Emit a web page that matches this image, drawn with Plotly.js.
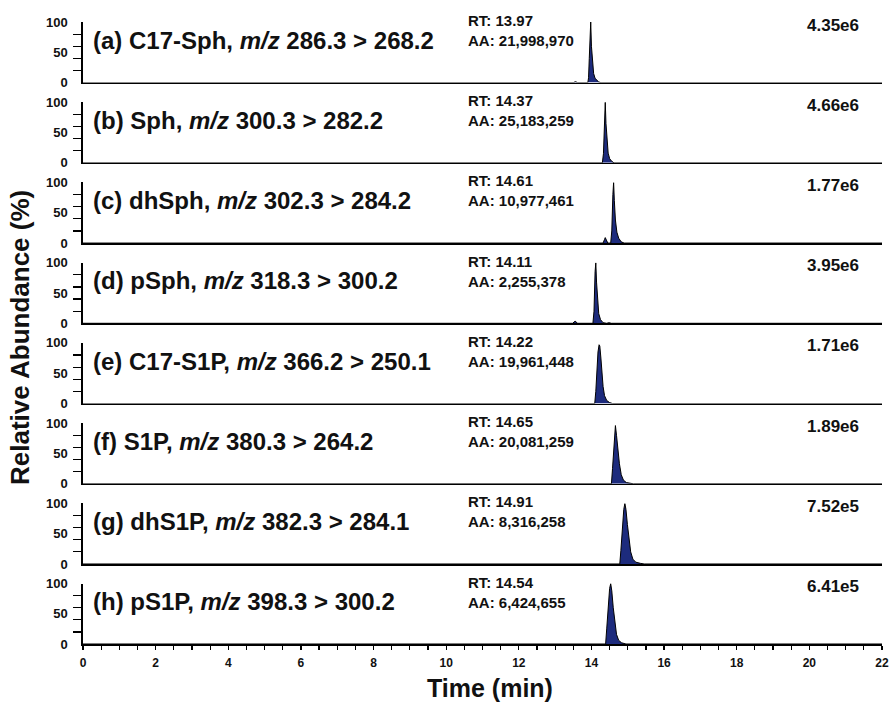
<!DOCTYPE html>
<html>
<head>
<meta charset="utf-8">
<script src="https://cdn.plot.ly/plotly-3.0.1.min.js"></script>
<style>html,body{margin:0;padding:0;background:#fff;}#chart{width:890px;height:705px;}</style>
</head>
<body>
<div id="chart"></div>
<script>
// ---- data ----
var panelLabels = [
  "(a) C17-Sph, <i>m/z</i> 286.3 > 268.2",
  "(b) Sph, <i>m/z</i> 300.3 > 282.2",
  "(c) dhSph, <i>m/z</i> 302.3 > 284.2",
  "(d) pSph, <i>m/z</i> 318.3 > 300.2",
  "(e) C17-S1P, <i>m/z</i> 366.2 > 250.1",
  "(f) S1P, <i>m/z</i> 380.3 > 264.2",
  "(g) dhS1P, <i>m/z</i> 382.3 > 284.1",
  "(h) pS1P, <i>m/z</i> 398.3 > 300.2"
];
var rtValues = ["13.97", "14.37", "14.61", "14.11", "14.22", "14.65", "14.91", "14.54"];
var aaValues = ["21,998,970", "25,183,259", "10,977,461", "2,255,378", "19,961,448", "20,081,259", "8,316,258", "6,424,655"];
var maxIntensity = ["4.35e6", "4.66e6", "1.77e6", "3.95e6", "1.71e6", "1.89e6", "7.52e5", "6.41e5"];

var timeA = [0, 13.50, 13.56, 13.62, 13.90, 13.92, 13.94, 13.96, 13.98, 14.00, 14.03, 14.06, 14.10, 14.15, 14.20, 14.26, 22];
var intA  = [0, 0, 1.5, 0, 0, 8, 40, 85, 100, 60, 30, 15, 7, 3, 1, 0, 0];
var timeB = [0, 13.52, 13.58, 13.64, 14.30, 14.33, 14.36, 14.38, 14.40, 14.43, 14.46, 14.50, 14.55, 14.62, 22];
var intB  = [0, 0, 1.2, 0, 0, 15, 70, 100, 65, 32, 16, 7, 3, 0, 0];
var timeC = [0, 13.50, 13.55, 13.60, 14.32, 14.36, 14.38, 14.41, 14.45, 14.53, 14.56, 14.59, 14.61, 14.63, 14.66, 14.70, 14.75, 14.82, 14.90, 22];
var intC  = [0, 0, 1, 0, 0, 6, 9, 5, 0, 0, 20, 80, 100, 70, 38, 18, 8, 2, 0, 0];
var timeD = [0, 13.48, 13.55, 13.62, 14.04, 14.07, 14.10, 14.12, 14.14, 14.17, 14.20, 14.25, 14.32, 14.42, 14.48, 14.55, 22];
var intD  = [0, 0, 3.5, 0, 0, 20, 85, 100, 68, 35, 16, 6, 1, 0, 1, 0, 0];
var timeE = [0, 13.82, 13.87, 13.92, 14.09, 14.12, 14.15, 14.18, 14.21, 14.23, 14.26, 14.29, 14.32, 14.36, 14.42, 14.50, 14.58, 22];
var intE  = [0, 0, 1, 0, 0, 20, 55, 85, 97, 95, 75, 50, 28, 13, 5, 1.5, 0, 0];
var timeF = [0, 14.55, 14.58, 14.61, 14.64, 14.66, 14.69, 14.73, 14.77, 14.82, 14.88, 14.96, 15.10, 15.15, 22];
var intF  = [0, 0, 25, 60, 92, 96, 80, 55, 33, 15, 6, 2, 0.5, 0, 0];
var timeG = [0, 14.78, 14.81, 14.85, 14.89, 14.92, 14.95, 14.99, 15.03, 15.08, 15.14, 15.22, 15.35, 15.45, 22];
var intG  = [0, 0, 22, 60, 90, 100, 90, 65, 40, 20, 8, 3, 1, 0, 0];
var timeH = [0, 14.39, 14.42, 14.46, 14.50, 14.53, 14.56, 14.60, 14.64, 14.69, 14.75, 14.83, 14.95, 22];
var intH  = [0, 0, 25, 65, 92, 100, 88, 60, 35, 16, 6, 2, 0, 0];

var times = [timeA, timeB, timeC, timeD, timeE, timeF, timeG, timeH];
var intensities = [intA, intB, intC, intD, intE, intF, intG, intH];

var xTickVals = [0, 2, 4, 6, 8, 10, 12, 14, 16, 18, 20, 22];
var yTickVals = [0, 50, 100];
var yTickText = ["<b>0</b>", "<b>50</b>", "<b>100</b>"];
var xTickText = xTickVals.map(function(v){ return "<b>" + v + "</b>"; });

// ---- layout geometry ----
var W = 890, H = 705;
var mL = 83, mR = 8, mT = 22, mB = 61;
var plotH = H - mT - mB;
var plotW = W - mL - mR;
var panelStep = 80.23, panelH = 60.6;

var FONT = "Liberation Sans, Arial, Helvetica, sans-serif";
var bold = function(size){ return {family: FONT, size: size, color: "#111", weight: "bold"}; };

var data = [];
var layout = {
  width: W, height: H,
  margin: {l: mL, r: mR, t: mT, b: mB, pad: 0},
  paper_bgcolor: "#fff", plot_bgcolor: "#fff",
  showlegend: false,
  annotations: []
};

for (var i = 0; i < 8; i++) {
  var n = i + 1;
  var xs = n === 1 ? "x" : "x" + n;
  var ys = n === 1 ? "y" : "y" + n;
  var xk = n === 1 ? "xaxis" : "xaxis" + n;
  var yk = n === 1 ? "yaxis" : "yaxis" + n;
  data.push({
    type: "scatter", mode: "lines",
    x: times[i], y: intensities[i],
    xaxis: xs, yaxis: ys,
    fill: "tozeroy", fillcolor: "#1d2b7d",
    line: {color: "#000", width: 1},
    hoverinfo: "skip"
  });
  var topPx = i * panelStep;
  var botPx = topPx + panelH;
  var isBottom = (i === 7);
  layout[xk] = {
    domain: [0, 1], range: [0, 22], anchor: ys,
    showline: true, linecolor: "#000", linewidth: 1.6,
    showgrid: false, zeroline: false, fixedrange: true,
    ticks: isBottom ? "outside" : "",
    ticklen: 4, tickwidth: 1.2, tickcolor: "#000",
    tickmode: "array", tickvals: xTickVals, ticktext: xTickText,
    showticklabels: isBottom,
    ticklabelstandoff: 3,
    tickfont: bold(12),
    minor: isBottom ? {dtick: 0.5, tick0: 0, ticks: "outside", ticklen: 4, tickwidth: 1.2, tickcolor: "#000", showgrid: false} : undefined
  };
  layout[yk] = {
    domain: [(plotH - botPx) / plotH, (plotH - topPx) / plotH],
    range: [0, 100], anchor: xs,
    showline: true, linecolor: "#000", linewidth: 1.6,
    showgrid: false, zeroline: false, fixedrange: true,
    tickmode: "array", tickvals: yTickVals, ticktext: yTickText,
    ticks: "inside", ticklen: 0,
    ticklabelstandoff: 11,
    tickfont: bold(13),
    minor: {tickmode: "linear", dtick: 20, tick0: 0, ticks: "outside", ticklen: 8, tickwidth: 1.2, tickcolor: "#000", showgrid: false}
  };
  layout.annotations.push({
    text: "<b>" + panelLabels[i] + "</b>", xref: "paper", yref: ys,
    x: 8 / plotW, y: 70, xanchor: "left", yanchor: "middle",
    showarrow: false, font: bold(24)
  });
  layout.annotations.push({
    text: "<b>RT: " + rtValues[i] + "</b><br><b>AA: " + aaValues[i] + "</b>",
    xref: "paper", yref: ys,
    x: (466 - mL) / plotW, y: 86, xanchor: "left", yanchor: "middle", align: "left",
    showarrow: false, font: bold(15)
  });
  layout.annotations.push({
    text: "<b>" + maxIntensity[i] + "</b>", xref: "paper", yref: ys,
    x: (861 - mL) / plotW, y: 95, xanchor: "right", yanchor: "middle",
    showarrow: false, font: bold(17)
  });
}

layout.annotations.push({
  text: "<b>Relative Abundance (%)</b>", xref: "paper", yref: "paper",
  x: (20 - mL) / plotW, y: (plotH - 316) / plotH, xanchor: "center", yanchor: "middle",
  textangle: -90, showarrow: false, font: bold(26)
});
layout.annotations.push({
  text: "<b>Time (min)</b>", xref: "paper", yref: "paper",
  x: (490 - mL) / plotW, y: (plotH - 666) / plotH, xanchor: "center", yanchor: "middle",
  showarrow: false, font: bold(25)
});

Plotly.newPlot("chart", data, layout, {staticPlot: true, displayModeBar: false});
</script>
</body>
</html>
